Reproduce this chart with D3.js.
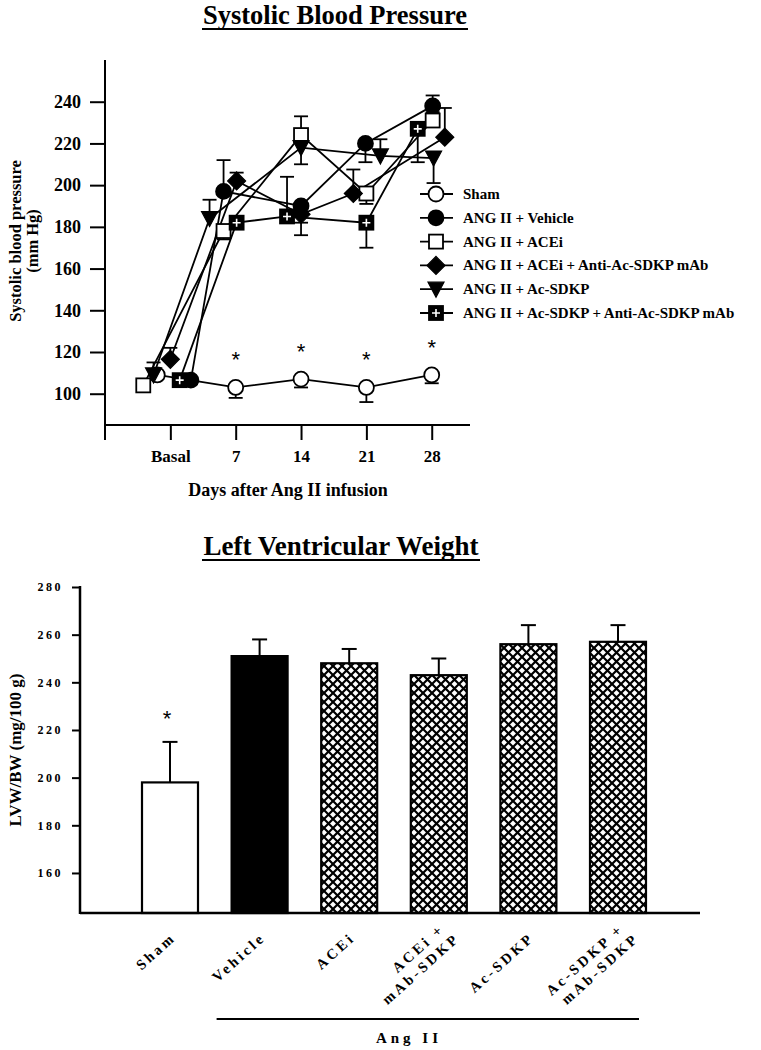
<!DOCTYPE html>
<html><head><meta charset="utf-8">
<script src="https://cdn.jsdelivr.net/npm/d3@7"></script>
<style>
body{margin:0;background:#fff}
svg text{font-family:"Liberation Serif","Times New Roman",serif;font-weight:bold;fill:#000}
</style>
</head><body>
<svg id="c" width="761" height="1050"></svg>
<script>
// ---------- Systolic blood pressure data ----------
const sbpTickLabels = ["Basal", "7", "14", "21", "28"];
const sbpTickDays = [0, 7, 14, 21, 28];
const sbpYTicks = [100, 120, 140, 160, 180, 200, 220, 240];
const seriesNames = ["Sham", "ANG II + Vehicle", "ANG II + ACEi",
  "ANG II + ACEi + Anti-Ac-SDKP mAb", "ANG II + Ac-SDKP", "ANG II + Ac-SDKP + Anti-Ac-SDKP mAb"];
// plotted day positions (groups are slightly staggered around each time point)
const shamDays = [-1.4, 7, 14, 21, 28];
const shamSBP  = [109, 103, 107, 103, 109];
const shamErr  = [-2, -5, -4, -7, -4];
const vehDays  = [2.2, 5.7, 14, 20.9, 28.1];
const vehSBP   = [106.5, 197, 190, 220, 238];
const vehErr   = [-2, 15, -14, -9, 5];
const aceDays  = [-2.9, 5.7, 14, 21, 28.1];
const aceSBP   = [104, 178, 224, 196, 231];
const aceErr   = [-2, -4, 9, -5, 4];
const aceMabDays = [0, 7.1, 14, 19.6, 29.4];
const aceMabSBP  = [116.5, 202, 186, 196, 223];
const aceMabErr  = [5.5, 4, -4, 11.5, 14];
const sdkpDays = [-1.8, 4.2, 14, 22.5, 28.2];
const sdkpSBP  = [109, 184, 218, 214, 213];
const sdkpErr  = [6, 9, -8, 8, -12];
const sdkpMabDays = [1, 7.1, 12.5, 21, 26.5];
const sdkpMabSBP  = [106.5, 182, 185, 182, 227];
const sdkpMabErr  = [-2, -3, 19, -12, -16];
const shamStarDays = [7, 14, 21, 28];

// ---------- LV weight data ----------
const lvCategories = ["Sham", "Vehicle", "ACEi", "ACEi +|mAb-SDKP", "Ac-SDKP", "Ac-SDKP +|mAb-SDKP"];
const lvValues = [198, 251, 248, 243, 256, 257];
const lvErr = [17, 7, 6, 7, 8, 7];
const lvYTicks = [160, 180, 200, 220, 240, 260, 280];

const svg = d3.select("#c");

// pattern
const defs = svg.append("defs");
const pat = defs.append("pattern").attr("id", "hatch").attr("patternUnits", "userSpaceOnUse")
  .attr("width", 9).attr("height", 9);
pat.append("rect").attr("width", 9).attr("height", 9).attr("fill", "#fff");
pat.append("path").attr("d", "M-1,-1L10,10M10,-1L-1,10").attr("stroke", "#000").attr("stroke-width", 2.2);

// ===================== TOP CHART =====================
const x1 = d3.scaleLinear().domain([-7, 32.1]).range([105, 470]);
const y1 = d3.scaleLinear().domain([85, 260]).range([425, 60]);

// title
svg.append("text").attr("x", 335).attr("y", 24).attr("text-anchor", "middle")
  .style("font-size", "26.5px").text("Systolic Blood Pressure");
svg.append("line").attr("x1", 202).attr("x2", 468).attr("y1", 29).attr("y2", 29)
  .attr("stroke", "#000").attr("stroke-width", 2);

// y axis
const yAx = svg.append("g").attr("transform", "translate(105,0)")
  .call(d3.axisLeft(y1).tickValues(sbpYTicks).tickSize(15).tickPadding(9).tickFormat(d3.format("d")));
yAx.select(".domain").remove();
yAx.selectAll("line").attr("stroke", "#000").attr("stroke-width", 2);
yAx.selectAll("text").style("font-size", "18px").style("font-family", "Liberation Serif").style("font-weight", "bold");
svg.append("line").attr("x1", 105).attr("x2", 105).attr("y1", 60).attr("y2", 440)
  .attr("stroke", "#000").attr("stroke-width", 2);

// x axis
const xAx = svg.append("g").attr("transform", "translate(0,425)")
  .call(d3.axisBottom(x1).tickValues(sbpTickDays).tickSize(15).tickPadding(10)
    .tickFormat((d, i) => sbpTickLabels[i]));
xAx.select(".domain").remove();
xAx.selectAll("line").attr("stroke", "#000").attr("stroke-width", 2);
xAx.selectAll("text").style("font-size", "17px").style("font-family", "Liberation Serif").style("font-weight", "bold");
svg.append("line").attr("x1", 105).attr("x2", 470).attr("y1", 425).attr("y2", 425)
  .attr("stroke", "#000").attr("stroke-width", 2);

svg.append("text").attr("x", 288).attr("y", 496).attr("text-anchor", "middle")
  .style("font-size", "18px").text("Days after Ang II infusion");
const yt1 = svg.append("g").attr("transform", "translate(0,241) rotate(-90)");
yt1.append("text").attr("x", 0).attr("y", 21).attr("text-anchor", "middle").style("font-size", "16.5px").text("Systolic blood pressure");
yt1.append("text").attr("x", 0).attr("y", 38).attr("text-anchor", "middle").style("font-size", "16.5px").text("(mm Hg)");

// series
const series = [
  {days: shamDays, v: shamSBP, e: shamErr, shape: "circle", fill: "#fff"},
  {days: vehDays, v: vehSBP, e: vehErr, shape: "circle", fill: "#000"},
  {days: aceDays, v: aceSBP, e: aceErr, shape: "square", fill: "#fff"},
  {days: aceMabDays, v: aceMabSBP, e: aceMabErr, shape: "diamond", fill: "#000"},
  {days: sdkpDays, v: sdkpSBP, e: sdkpErr, shape: "triangle", fill: "#000"},
  {days: sdkpMabDays, v: sdkpMabSBP, e: sdkpMabErr, shape: "plus", fill: "#000"}
];

function drawMarker(g, shape, fill, cx, cy) {
  const m = g.append("g").attr("transform", `translate(${cx},${cy})`);
  if (shape === "circle") {
    m.append("circle").attr("r", 7.5).attr("fill", fill).attr("stroke", "#000").attr("stroke-width", 1.8);
  } else if (shape === "square" || shape === "plus") {
    m.append("rect").attr("x", -7).attr("y", -7).attr("width", 14).attr("height", 14)
      .attr("fill", fill).attr("stroke", "#000").attr("stroke-width", 1.8);
    if (shape === "plus") {
      m.append("path").attr("d", "M-4,0H4M0,-4V4").attr("stroke", "#fff").attr("stroke-width", 1.6);
    }
  } else if (shape === "diamond") {
    m.append("path").attr("d", "M0,-9L9,0L0,9L-9,0Z").attr("fill", fill).attr("stroke", "#000").attr("stroke-width", 1.2);
  } else if (shape === "triangle") {
    m.append("path").attr("d", "M-8,-7L8,-7L0,8Z").attr("fill", fill).attr("stroke", "#000").attr("stroke-width", 1.2);
  }
}

const line = d3.line().x(d => x1(d[0])).y(d => y1(d[1]));
const gLines = svg.append("g"), gErr = svg.append("g"), gMarks = svg.append("g");
series.forEach(s => {
  const pts = s.days.map((d, i) => [d, s.v[i]]);
  gLines.append("path").datum(pts).attr("d", line).attr("fill", "none")
    .attr("stroke", "#000").attr("stroke-width", 1.8);
  pts.forEach((p, i) => {
    const cx = x1(p[0]), y0 = y1(p[1]), ye = y1(p[1] + s.e[i]);
    gErr.append("line").attr("x1", cx).attr("x2", cx).attr("y1", y0).attr("y2", ye)
      .attr("stroke", "#000").attr("stroke-width", 1.8);
    gErr.append("line").attr("x1", cx - 7).attr("x2", cx + 7).attr("y1", ye).attr("y2", ye)
      .attr("stroke", "#000").attr("stroke-width", 1.8);
  });
});
series.forEach(s => {
  s.days.forEach((d, i) => drawMarker(gMarks, s.shape, s.fill, x1(d), y1(s.v[i])));
});
// significance stars
shamStarDays.forEach(d => {
  const i = shamDays.indexOf(d);
  svg.append("text").attr("x", x1(d)).attr("y", y1(shamSBP[i] + 15) + 11).attr("text-anchor", "middle")
    .style("font-size", "22px").style("font-family", "Liberation Sans").style("font-weight", "normal").text("*");
});

// legend
const legRow0 = 194, legStep = 23.8;
series.forEach((s, i) => {
  const ly = legRow0 + i * legStep;
  svg.append("line").attr("x1", 420).attr("x2", 453).attr("y1", ly).attr("y2", ly)
    .attr("stroke", "#000").attr("stroke-width", 1.8);
  drawMarker(svg, s.shape, s.fill, 436, ly);
  svg.append("text").attr("x", 463).attr("y", ly + 5).style("font-size", "15px").text(seriesNames[i]);
});

// ===================== BOTTOM CHART =====================
const x2 = d3.scaleBand().domain(lvCategories).range([125.2, 662.8]).paddingInner(0.375).paddingOuter(0.1875);
const y2 = d3.scaleLinear().domain([143.2, 280]).range([913, 587]);

svg.append("text").attr("x", 341).attr("y", 555).attr("text-anchor", "middle")
  .style("font-size", "27px").text("Left Ventricular Weight");
svg.append("line").attr("x1", 202).attr("x2", 480).attr("y1", 560).attr("y2", 560)
  .attr("stroke", "#000").attr("stroke-width", 2);

const yAx2 = svg.append("g").attr("transform", "translate(80,0)")
  .call(d3.axisLeft(y2).tickValues(lvYTicks).tickSize(8).tickPadding(9).tickFormat(d3.format("d")));
yAx2.select(".domain").remove();
yAx2.selectAll("line").attr("stroke", "#000").attr("stroke-width", 2);
yAx2.selectAll("text").style("font-size", "12px").style("font-family", "Liberation Serif")
  .style("font-weight", "bold").style("letter-spacing", "2.5px");
svg.append("line").attr("x1", 80).attr("x2", 80).attr("y1", 586).attr("y2", 914)
  .attr("stroke", "#000").attr("stroke-width", 2.5);

svg.append("text").attr("transform", "translate(21,750) rotate(-90)").attr("text-anchor", "middle")
  .style("font-size", "17px").text("LVW/BW (mg/100 g)");

// bars
const fills = ["#fff", "#000", "url(#hatch)", "url(#hatch)", "url(#hatch)", "url(#hatch)"];
lvCategories.forEach((c, i) => {
  const bx = x2(c), bw = x2.bandwidth(), cx = bx + bw / 2;
  const top = y2(lvValues[i]), cap = y2(lvValues[i] + lvErr[i]);
  svg.append("line").attr("x1", cx).attr("x2", cx).attr("y1", top).attr("y2", cap)
    .attr("stroke", "#000").attr("stroke-width", 2);
  svg.append("line").attr("x1", cx - 7.5).attr("x2", cx + 7.5).attr("y1", cap).attr("y2", cap)
    .attr("stroke", "#000").attr("stroke-width", 2);
  svg.append("rect").attr("x", bx).attr("y", top).attr("width", bw).attr("height", y2(143.2) - top)
    .attr("fill", fills[i]).attr("stroke", "#000").attr("stroke-width", 2.2);
});
svg.append("text").attr("x", x2("Sham") + x2.bandwidth() / 2 - 3).attr("y", y2(lvValues[0] + lvErr[0] + 11) + 10)
  .attr("text-anchor", "middle").style("font-size", "22px").style("font-family", "Liberation Sans")
  .style("font-weight", "normal").text("*");

svg.append("line").attr("x1", 80).attr("x2", 700).attr("y1", 913).attr("y2", 913)
  .attr("stroke", "#000").attr("stroke-width", 2.5);

// category labels
lvCategories.forEach(c => {
  const cx = x2(c) + x2.bandwidth() / 2;
  const parts = c.split("|");
  const lbl = (g, x, y, t) => g.append("text").attr("x", x).attr("y", y).attr("text-anchor", "end")
    .style("font-size", "14.5px").style("letter-spacing", "3px").text(t);
  if (parts.length === 1) {
    const g = svg.append("g").attr("transform", `translate(${cx + 4},936) rotate(-42)`);
    lbl(g, 0, 4, parts[0]);
  } else {
    const g = svg.append("g").attr("transform", `translate(${cx + 10},934) rotate(-42)`);
    lbl(g, 0, -5, parts[0]);
    lbl(g, 5, 12, parts[1]);
  }
});

// Ang II group
svg.append("line").attr("x1", x2("Vehicle") - 15).attr("x2", x2("Ac-SDKP +|mAb-SDKP") + x2.bandwidth() - 7)
  .attr("y1", 1019).attr("y2", 1019).attr("stroke", "#000").attr("stroke-width", 2);
svg.append("text").attr("x", 409).attr("y", 1043).attr("text-anchor", "middle")
  .style("font-size", "15px").style("letter-spacing", "4px").text("Ang II");
</script>
</body></html>
